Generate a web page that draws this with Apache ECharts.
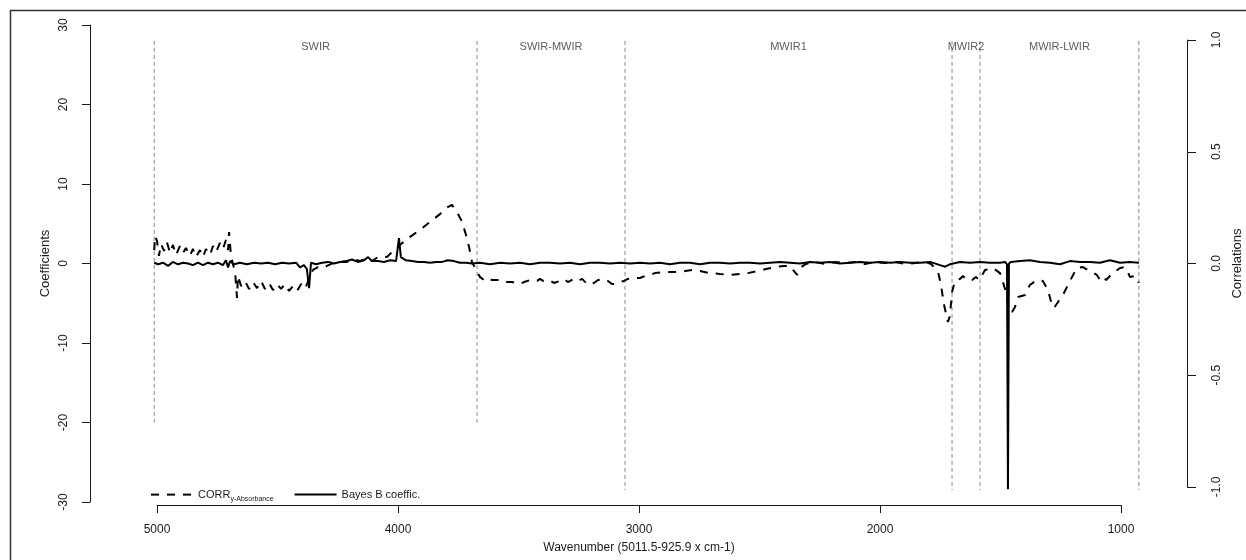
<!DOCTYPE html>
<html>
<head>
<meta charset="utf-8">
<script src="https://cdn.jsdelivr.net/npm/echarts@6/dist/echarts.min.js"></script>
<style>html,body{margin:0;padding:0;background:#fff;}#c{width:1246px;height:560px;}</style>
</head>
<body>
<div id="c"></div>
<script>
// ---------- DATA ----------
// Bayes B coefficients (left axis)
const bayesWn = [5011.5,4996,4975,4954,4934,4913,4892,4871,4851,4830,4809,4788,4768,4747,4726,4714,4705,4697,4680,4656,4627,4597,4568,4539,4510,4481,4452,4423,4407,4390,4378,4369,4361,4340,4315,4290,4266,4241,4216,4191,4166,4141,4124,4108,4083,4058,4033,4008,3996,3988,3967,3942,3917,3892,3867,3842,3817,3793,3768,3743,3718,3693,
3660,3618,3577,3535,3494,3452,3411,3369,3328,3286,3245,3203,3162,3120,3079,3037,2996,2954,2913,2871,2830,2788,2747,2705,2664,2622,2581,2539,2498,2456,2415,2373,2332,2290,2249,2207,2166,2124,2083,2041,2000,1958,1917,1875,1834,1792,1751,1730,1710,1668,1627,1585,1544,1502,1481,1473,1469,1465,1456,1419,1378,1336,1295,1253,1212,1170,1129,1087,1046,1004,963,925.9];
const bayesCoef = [0.1,-0.1,0.1,-0.3,0.2,-0.1,0.1,0.0,-0.2,0.1,-0.2,0.1,-0.1,0.1,-0.2,0.4,-0.5,0.3,-0.1,0.1,-0.1,0.1,0.0,0.1,-0.1,0.1,0.0,0.1,-0.5,-0.2,-0.7,-3.1,0.1,-0.1,0.1,0.2,0.0,0.2,0.3,0.5,0.2,0.4,0.8,0.3,0.3,0.2,0.4,0.3,3.2,0.8,0.4,0.3,0.2,0.2,0.1,0.2,0.2,0.4,0.3,0.1,0.1,0.0,
0.1,-0.1,0.1,0.0,0.1,-0.1,0.1,0.1,0.0,0.1,-0.1,0.1,0.1,0.0,0.1,0.0,0.1,0.0,0.1,-0.1,0.1,0.1,-0.1,0.1,0.1,0.0,0.1,0.1,0.0,0.1,0.2,0.1,0.0,0.2,0.1,0.2,0.0,0.1,0.2,0.1,0.2,0.1,0.2,0.1,0.1,0.2,-0.2,-0.4,-0.1,0.2,0.1,0.2,0.1,0.1,0.2,-0.1,-28.4,0.0,0.2,0.3,0.4,0.2,0.1,-0.1,0.3,0.2,0.2,0.1,0.4,0.1,0.2,0.1];

// Correlation y - absorbance (right axis)
const corrWn = [5011.5,5008,5000,4992,4983,4971,4959,4946,4934,4921,4905,4892,4880,4863,4851,4838,4822,4809,4797,4780,4768,4755,4739,4726,4714,4705,4701,4693,4685,4676,4668,4664,4651,4635,4618,4602,4585,4568,4552,4535,4519,4502,4485,4469,4452,4436,4419,4402,4386,4369,4353,4332,4311,4295,4270,4241,4212,4187,4158,4129,4108,4083,4046,4025,4008,3992,3950,3909,3867,3826,3801,3776,3755,3734,3718,3705,3693,3676,3660,
3643,3627,3610,3577,3556,3527,3506,3494,3477,3452,3423,3411,3398,3373,3353,3328,3311,3295,3270,3253,3236,3220,3203,3187,3170,3149,3129,3112,3100,3083,3062,3046,
3021,2996,2975,2933,2892,2851,2809,2776,2747,2705,2664,2622,2581,2548,2510,2473,2436,2398,2373,2361,2344,2332,2307,2270,2228,2187,2145,2104,2062,2021,1979,1938,1896,1855,1813,1788,1776,1759,1747,1734,1722,1718,1710,1701,1689,1668,1656,1639,1618,1602,1589,1564,1531,1502,1490,1477,1465,1452,1440,1427,1398,1378,1349,1324,1303,1290,1278,1261,1241,1220,1203,1183,1158,1137,1120,1100,1087,1075,1062,1046,1033,1004,987,975,963,942,934,925.9];
const corrVal = [0.060,0.123,0.101,0.034,0.087,0.056,0.096,0.047,0.083,0.038,0.078,0.047,0.069,0.034,0.065,0.029,0.060,0.029,0.065,0.038,0.078,0.051,0.092,0.065,0.105,0.060,0.141,0.034,-0.002,-0.038,-0.154,-0.056,-0.101,-0.078,-0.114,-0.083,-0.110,-0.078,-0.114,-0.087,-0.119,-0.092,-0.114,-0.092,-0.123,-0.101,-0.123,-0.092,-0.114,-0.069,-0.029,-0.016,-0.020,-0.011,0.002,0.007,0.007,0.020,0.011,0.025,0.011,0.029,0.029,0.051,0.065,0.083,0.119,0.150,0.186,0.221,0.248,0.262,0.230,0.186,0.128,0.074,0.007,-0.029,-0.060,
-0.074,-0.065,-0.074,-0.074,-0.083,-0.083,-0.087,-0.092,-0.083,-0.074,-0.078,-0.069,-0.078,-0.074,-0.087,-0.078,-0.069,-0.083,-0.069,-0.078,-0.069,-0.087,-0.096,-0.087,-0.074,-0.069,-0.078,-0.092,-0.092,-0.083,-0.078,-0.069,
-0.065,-0.065,-0.056,-0.043,-0.038,-0.038,-0.034,-0.029,-0.034,-0.043,-0.047,-0.051,-0.047,-0.043,-0.034,-0.025,-0.016,-0.011,-0.011,-0.029,-0.051,-0.020,-0.002,0.007,-0.002,0.007,0.002,0.007,-0.002,0.007,0.002,0.007,-0.002,0.002,0.007,-0.002,-0.016,-0.038,-0.096,-0.186,-0.244,-0.262,-0.235,-0.128,-0.078,-0.069,-0.056,-0.074,-0.074,-0.060,-0.074,-0.029,-0.020,-0.043,-0.083,-0.128,-0.208,-0.217,-0.195,-0.150,-0.141,-0.096,-0.074,-0.078,-0.119,-0.172,-0.199,-0.172,-0.141,-0.096,-0.060,-0.020,-0.016,-0.029,-0.038,-0.051,-0.074,-0.060,-0.074,-0.056,-0.043,-0.020,-0.016,-0.029,-0.060,-0.056,-0.065,-0.087];

// Spectral regions
const regionBounds = [5011.5, 3672, 3058, 1701, 1585, 925.9];
const regionLineTop = [28, 28, 28, 28, 28, 28];
const regionLineBottom = [-20, -20, -28.5, -28.5, -28.5, -28.5];
const regionNames = ['SWIR', 'SWIR-MWIR', 'MWIR1', 'MWIR2', 'MWIR-LWIR'];
const regionLabelLevel = 27.2;

// Axis ticks
const coefTicks = [-30, -20, -10, 0, 10, 20, 30];
const corrTicks = [-1.0, -0.5, 0.0, 0.5, 1.0];
const wnTicks = [5000, 4000, 3000, 2000, 1000];

const corrName = 'CORRy-Absorbance';
const bayesName = 'Bayes B coeffic.';

// ---------- LAYOUT ----------
const FONT = "'Liberation Sans', Arial, sans-serif";
const INK = '#1a1a1a';
// hidden x axes span the full plot frame (x = 90 .. 1187 px)
const X_LEFT_VAL = 5278.0, X_RIGHT_VAL = 726.1;

const chart = echarts.init(document.getElementById('c'), null, {renderer: 'canvas'});

const series = [];
regionBounds.forEach((wn, i) => {
  series.push({
    type: 'line', xAxisIndex: 0, yAxisIndex: 0, silent: true, symbol: 'none',
    data: [[wn, regionLineTop[i]], [wn, regionLineBottom[i]]],
    lineStyle: {color: '#8a8a8a', width: 1, type: [4, 3]}, z: 1
  });
});
series.push({
  type: 'scatter', xAxisIndex: 0, yAxisIndex: 0, silent: true, symbolSize: 0,
  data: regionNames.map((n, i) => ({name: n, value: [(regionBounds[i] + regionBounds[i + 1]) / 2, regionLabelLevel]})),
  label: {show: true, position: 'inside', formatter: '{b}', color: '#333', fontSize: 11, fontFamily: FONT}
});
series.push({
  name: corrName, type: 'line', xAxisIndex: 1, yAxisIndex: 1, symbol: 'none',
  data: corrWn.map((w, i) => [w, corrVal[i]]),
  lineStyle: {color: '#000', width: 2, type: [8, 8]}, itemStyle: {color: '#000'}, z: 3
});
series.push({
  name: bayesName, type: 'line', xAxisIndex: 0, yAxisIndex: 0, symbol: 'none',
  data: bayesWn.map((w, i) => [w, bayesCoef[i]]),
  lineStyle: {color: '#000', width: 2}, itemStyle: {color: '#000'}, z: 4
});

const axisLineStyle = {color: INK, width: 1};
const option = {
  animation: false,
  backgroundColor: '#fff',
  textStyle: {fontFamily: FONT},
  grid: [
    {left: 90, right: 59, top: 25, bottom: 58, outerBoundsMode: 'none'},
    {left: 90, right: 59, top: 40, bottom: 73, outerBoundsMode: 'none'},
    {left: 157, right: 125, top: 495, bottom: 55, outerBoundsMode: 'none'}
  ],
  xAxis: [
    {gridIndex: 0, type: 'value', min: X_RIGHT_VAL, max: X_LEFT_VAL, inverse: true, show: false},
    {gridIndex: 1, type: 'value', min: X_RIGHT_VAL, max: X_LEFT_VAL, inverse: true, show: false},
    {gridIndex: 2, type: 'value', min: wnTicks[wnTicks.length - 1], max: wnTicks[0], interval: 1000, inverse: true,
      position: 'bottom',
      axisLine: {show: true, lineStyle: axisLineStyle},
      axisTick: {show: true, length: 8, lineStyle: axisLineStyle},
      axisLabel: {margin: 19, fontSize: 12, color: INK, fontFamily: FONT, showMinLabel: true, showMaxLabel: true,
        formatter: v => String(v)},
      splitLine: {show: false},
      name: 'Wavenumber (5011.5-925.9 x cm-1)', nameLocation: 'middle', nameGap: 37, nameMoveOverlap: false,
      nameTextStyle: {fontSize: 12, color: INK, fontFamily: FONT}
    }
  ],
  yAxis: [
    {gridIndex: 0, type: 'value', position: 'left', min: coefTicks[0], max: coefTicks[coefTicks.length - 1], interval: 10,
      axisLine: {show: true, lineStyle: axisLineStyle},
      axisTick: {show: true, length: 8, lineStyle: axisLineStyle},
      axisLabel: {rotate: 90, margin: 20, fontSize: 12, color: INK, fontFamily: FONT, showMinLabel: true, showMaxLabel: true},
      splitLine: {show: false},
      name: 'Coefficients', nameLocation: 'middle', nameGap: 38, nameRotate: 90, nameMoveOverlap: false,
      nameTextStyle: {fontSize: 13, color: INK, fontFamily: FONT}
    },
    {gridIndex: 1, type: 'value', position: 'right', min: corrTicks[0], max: corrTicks[corrTicks.length - 1], interval: 0.5,
      axisLine: {show: true, lineStyle: axisLineStyle},
      axisTick: {show: true, length: 9, lineStyle: axisLineStyle},
      axisLabel: {rotate: 90, margin: 24, fontSize: 12, color: INK, fontFamily: FONT, showMinLabel: true, showMaxLabel: true,
        formatter: v => v.toFixed(1)},
      splitLine: {show: false},
      name: 'Correlations', nameLocation: 'middle', nameGap: 44, nameRotate: 90, nameMoveOverlap: false,
      nameTextStyle: {fontSize: 13, color: INK, fontFamily: FONT}
    },
    {gridIndex: 2, type: 'value', show: false}
  ],
  legend: {
    left: 145, top: 484, orient: 'horizontal', itemWidth: 42, itemHeight: 14, itemGap: 20,
    data: [corrName, bayesName], selectedMode: false,
    itemStyle: {opacity: 0, borderWidth: 0},
    formatter: n => n === corrName ? '{a|CORR}{b|y-Absorbance}' : '{a|' + n + '}',
    textStyle: {color: INK, fontFamily: FONT, fontSize: 11,
      rich: {a: {fontSize: 11, fontFamily: FONT, color: INK, lineHeight: 16},
             b: {fontSize: 7, fontFamily: FONT, color: INK, lineHeight: 16, verticalAlign: 'bottom', padding: [5, 0, 0, 0]}}}
  },
  graphic: [
    {type: 'rect', silent: true, shape: {x: 10.5, y: 10.5, width: 1300, height: 600},
     style: {fill: 'none', stroke: '#333', lineWidth: 1.5}, z: 100}
  ],
  series: series
};
chart.setOption(option);
</script>
</body>
</html>
